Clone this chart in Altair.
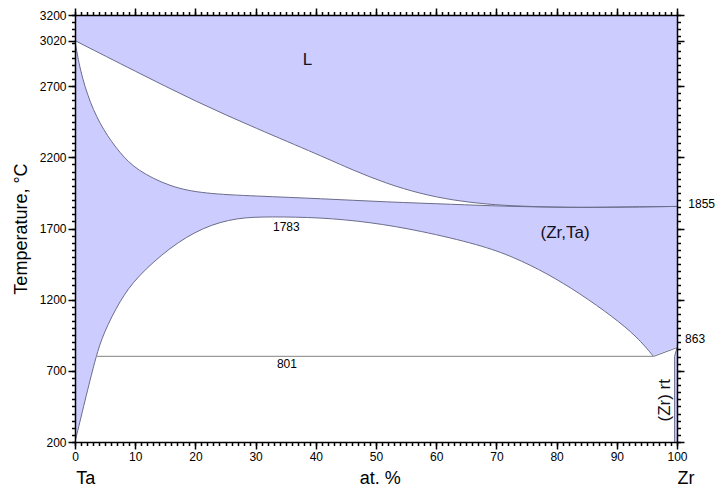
import altair as alt
import pandas as pd

# ---------------- data ----------------
# liquidus
liq_x = [0, 10, 20.2, 30, 40.7, 46.2, 51.8, 57.3, 62.8, 68.4, 74.0, 82.3, 90, 100]
liq_t = [3020, 2805, 2589, 2405, 2214, 2109, 2015, 1945, 1898, 1870, 1856, 1847, 1850, 1855]
# solidus
sol_x = [0, 0.83, 2.49, 4.7, 7.48, 10.25, 15.79, 21.3, 30, 40.7, 51.8, 62.8, 71.1, 82.3, 90, 100]
sol_t = [3020, 2811, 2580, 2390, 2228, 2109, 1992, 1945, 1928, 1910, 1886, 1870, 1856, 1847, 1850, 1855]
# bcc miscibility gap (dome)
gap_x = [0, 1.94, 3.49, 4.7, 7.48, 10.25, 15.79, 21.3, 26.9, 32.4, 40.7, 49.0, 57.3,
         67.3, 72.8, 78.4, 83.9, 89.4, 93.4, 96.1]
gap_t = [200, 540, 801, 962, 1196, 1359, 1570, 1711, 1777, 1783, 1778, 1745, 1685,
         1585, 1501, 1385, 1243, 1078, 938, 801]
# (Zr,Ta) / (Zr,Ta)+(Zr) boundary up to Zr transus
tr_x = [96.1, 100]
tr_t = [801, 863]
# (Zr) rt solvus
zr_x = [99.6, 99.6, 100]
zr_t = [200, 801, 863]
# eutectoid line
eut_x = [3.49, 96.1]
eut_t = [801, 801]

region_txt = ["L", "(Zr,Ta)"]
region_x = [38.6, 81.4]
region_t = [2882, 1666]

num_txt = ["1783", "801", "1855", "863"]
num_x = [35.1, 35.2, 104.1, 103.0]
num_t = [1711, 751, 1875, 926]

rot_txt = ["(Zr) rt"]
rot_x = [98.0]
rot_t = [493]

bottom_txt = ["Ta", "at. %", "Zr"]
bottom_x = [1.8, 50.7, 101.5]

y_major = [200, 700, 1200, 1700, 2200, 2700, 3020, 3200]
x_major = list(range(0, 101, 10))

# ---------------- styling ----------------
LAV = "#ccccff"
LINE = "#6c6c8c"
FONT = "Liberation Sans"
W, H = 602, 427
CURVE = "basis"

xs = alt.Scale(domain=[0, 100], nice=False, zero=False)
ys = alt.Scale(domain=[200, 3200], nice=False, zero=False)


def df(x, t):
    return pd.DataFrame({"x": x, "t": t})


def X(axis=None, title=None):
    return alt.X("x:Q", scale=xs, axis=axis, title=title)


def Y(axis=None, title=None):
    return alt.Y("t:Q", scale=ys, axis=axis, title=title)


liq = df(liq_x, liq_t)
sol = df(sol_x, sol_t)
gap = df(gap_x, gap_t)
tr = df(tr_x, tr_t)
zr = df(zr_x, zr_t)
eut = df(eut_x, eut_t)

area_L = alt.Chart(liq).mark_area(color=LAV, interpolate=CURVE).encode(
    x=X(), y=Y(), y2=alt.datum(3200))
area_bcc = alt.Chart(sol).mark_area(color=LAV, interpolate=CURVE).encode(
    x=X(), y=Y(), y2=alt.datum(200))
area_gap = alt.Chart(gap).mark_area(color="white", interpolate=CURVE).encode(
    x=X(), y=Y(), y2=alt.datum(200))
area_tr = alt.Chart(tr).mark_area(color="white", stroke="white", strokeWidth=1.5).encode(
    x=X(), y=Y(), y2=alt.datum(200))
area_zr = alt.Chart(zr).mark_area(color=LAV, orient="horizontal").encode(
    y=Y(), x=X(), x2=alt.datum(100))

line_liq = alt.Chart(liq).mark_line(color=LINE, strokeWidth=1, interpolate=CURVE).encode(x=X(), y=Y())
line_sol = alt.Chart(sol).mark_line(color=LINE, strokeWidth=1, interpolate=CURVE).encode(x=X(), y=Y())
line_gap = alt.Chart(gap).mark_line(color=LINE, strokeWidth=1, interpolate=CURVE).encode(x=X(), y=Y())
line_tr = alt.Chart(tr).mark_line(color=LINE, strokeWidth=1).encode(x=X(), y=Y())
line_zr = alt.Chart(zr).mark_line(color=LINE, strokeWidth=1).encode(
    x=X(), y=Y(), order=alt.Order("t:Q"))
line_eut = alt.Chart(eut).mark_line(color="#9a9a9a", strokeWidth=1.2).encode(x=X(), y=Y())

txt_region = alt.Chart(pd.DataFrame({"x": region_x, "t": region_t, "s": region_txt})).mark_text(
    font=FONT, fontSize=17, color="#111122", baseline="middle", align="center").encode(
    x=X(), y=Y(), text="s:N")
txt_num = alt.Chart(pd.DataFrame({"x": num_x, "t": num_t, "s": num_txt})).mark_text(
    font=FONT, fontSize=12, color="black", baseline="middle", align="center", clip=False).encode(
    x=X(), y=Y(), text="s:N")
txt_rot = alt.Chart(pd.DataFrame({"x": rot_x, "t": rot_t, "s": rot_txt})).mark_text(
    font=FONT, fontSize=17, color="#111122", baseline="middle", align="center", angle=270).encode(
    x=X(), y=Y(), text="s:N")
txt_bottom = alt.Chart(pd.DataFrame({"x": bottom_x, "s": bottom_txt})).mark_text(
    font=FONT, fontSize=18, color="black", baseline="middle", align="center", clip=False).encode(
    x=X(), y=alt.value(H + 37), text="s:N")

# ---------------- axes (major + minor on all four sides) ----------------
pt = pd.DataFrame({"x": [0], "t": [200]})
common = dict(domainColor="black", domainWidth=1.5, tickColor="black", tickWidth=1.5,
              grid=False, labelFont=FONT, labelColor="black", labelFontSize=12,
              labelOverlap=False, labelFlush=False, zindex=1)

ax_bottom_major = alt.Axis(orient="bottom", values=x_major, tickSize=7, labelPadding=2,
                           format="d", **common)
ax_bottom_minor = alt.Axis(orient="bottom", values=list(range(0, 101)), tickSize=3.5,
                           labels=False, domain=False, **common)
ax_top_major = alt.Axis(orient="top", values=x_major, tickSize=7, labels=False, **common)
ax_top_minor = alt.Axis(orient="top", values=list(range(0, 101)), tickSize=3.5,
                        labels=False, domain=False, **common)

ax_left_major = alt.Axis(orient="left", values=y_major, tickSize=7, labelPadding=2, format="d",
                         titleFont=FONT, titleFontSize=18, titleFontWeight="normal",
                         titleColor="black", titlePadding=9, **common)
ax_left_minor = alt.Axis(orient="left", values=list(range(200, 3201, 50)), tickSize=3.5,
                         labels=False, domain=False, **common)
ax_right_major = alt.Axis(orient="right", values=y_major, tickSize=7, labels=False, **common)
ax_right_minor = alt.Axis(orient="right", values=list(range(200, 3201, 50)), tickSize=3.5,
                          labels=False, domain=False, **common)


def axis_layer(xa, ya, ytitle=None):
    return alt.Chart(pt).mark_point(opacity=0).encode(
        x=X(axis=xa, title=None), y=Y(axis=ya, title=ytitle))


axes = [
    axis_layer(ax_bottom_major, ax_left_major, "Temperature, °C"),
    axis_layer(ax_bottom_minor, ax_left_minor),
    axis_layer(ax_top_major, ax_right_major),
    axis_layer(ax_top_minor, ax_right_minor),
]

chart = alt.layer(
    area_L, area_bcc, area_gap, area_tr, area_zr,
    line_liq, line_sol, line_gap, line_tr, line_zr, line_eut,
    txt_region, txt_num, txt_rot, txt_bottom,
    *axes
).resolve_axis(x="independent", y="independent").properties(
    width=W, height=H,
    autosize=alt.AutoSizeParams(type="none"),
    padding={"left": 75, "top": 15, "right": 46, "bottom": 53},
    background="white",
).configure_view(stroke=None)

chart.save("out.html", embed_options={"renderer": "svg", "actions": False})
